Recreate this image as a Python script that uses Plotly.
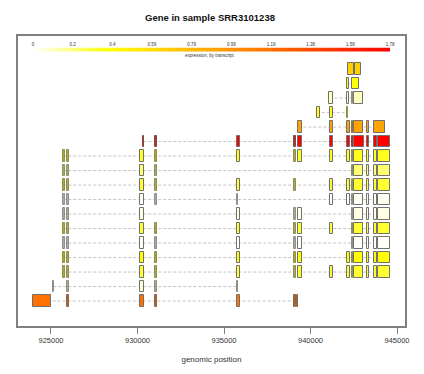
import plotly.graph_objects as go
from plotly.colors import sample_colorscale, unlabel_rgb

# ---------------- data ----------------
title_text = "Gene in sample SRR3101238"
xaxis_title = "genomic position"
colorbar_title = "expression, by transcript"

# transcripts listed top to bottom; expression per transcript
transcript_expr = [0.66, 0.38, 0.10, 0.37, 0.90, 1.78, 0.35, 0.22, 0.32,
                   0.02, 0.04, 0.32, 0.01, 0.40, 0.32, 0.07, 1.17]

# exon starts / ends per transcript (genomic coordinates)
exon_starts = [
    [942185, 942555],
    [942125, 942400],
    [941090, 942125, 942380, 942515],
    [940360, 941125, 942125],
    [939295, 941125, 942125, 942380, 942515, 943245, 943690],
    [930335, 931010, 935750, 939045, 939295, 941125, 942125, 942380, 942515, 943245, 943690, 943920],
    [925710, 925925, 930160, 931010, 935750, 939045, 939295, 941125, 942125, 942380, 942515, 943245, 943690, 943920],
    [925710, 925925, 930160, 931010, 942380, 942515, 943245, 943690, 943920],
    [925710, 925925, 930160, 931010, 935750, 939045, 941125, 942125, 942380, 942515, 943245, 943690, 943920],
    [925710, 925925, 930160, 931010, 935750, 941125, 942125, 942380, 942515, 943245, 943690, 943920],
    [925710, 925925, 930160, 935750, 939045, 939295, 942380, 942515, 943245, 943690, 943920],
    [925710, 925925, 930160, 931010, 935750, 939045, 939295, 941125, 942380, 942515, 943245, 943690, 943920],
    [925710, 925925, 930160, 931010, 935750, 939045, 939295, 942380, 942515, 943245, 943690, 943920],
    [925710, 925925, 930160, 931010, 935750, 939045, 939295, 942125, 942380, 942515, 943245, 943690, 943920],
    [925710, 925925, 930160, 931010, 935750, 939045, 939295, 941125, 942125, 942380, 942515, 943245, 943690, 943920],
    [925130, 925925, 930160, 931010, 935750],
    [923940, 925925, 930160, 931010, 935750, 939045, 939220],
]
exon_ends = [
    [942515, 942900],
    [942245, 942820],
    [941320, 942245, 942475, 943015],
    [940550, 941300, 942170],
    [939490, 941300, 942280, 942475, 943050, 943400, 944305],
    [930385, 931110, 935925, 939145, 939490, 941300, 942280, 942475, 943080, 943400, 943825, 944600],
    [925810, 926040, 930360, 931110, 935925, 939145, 939490, 941300, 942280, 942475, 943050, 943400, 943825, 944600],
    [925810, 926040, 930360, 931110, 942475, 943050, 943400, 943825, 944600],
    [925810, 926040, 930360, 931110, 935925, 939145, 941300, 942280, 942475, 943050, 943400, 943825, 944600],
    [925810, 926040, 930360, 931110, 935810, 941300, 942280, 942475, 943050, 943400, 943825, 944600],
    [925810, 926040, 930360, 935925, 939145, 939490, 942475, 943050, 943400, 943825, 944600],
    [925810, 926040, 930360, 931110, 935925, 939145, 939490, 941300, 942475, 943050, 943400, 943825, 944600],
    [925810, 926040, 930360, 931110, 935925, 939145, 939490, 942475, 943050, 943400, 943825, 944600],
    [925810, 926040, 930360, 931110, 935925, 939145, 939490, 942280, 942475, 943050, 943400, 943825, 944600],
    [925810, 926040, 930360, 931110, 935925, 939145, 939490, 941300, 942280, 942475, 943050, 943400, 943825, 944600],
    [925190, 926040, 930360, 931110, 935810],
    [924980, 926040, 930360, 931110, 935925, 939145, 939260],
]

x_ticks = [925000, 930000, 935000, 940000, 945000]
x_tick_labels = ["925000", "930000", "935000", "940000", "945000"]

expr_min = 0.0
expr_max = 1.78
cb_tick_vals = [0, 0.198, 0.396, 0.593, 0.791, 0.989, 1.187, 1.384, 1.582, 1.78]
cb_tick_labels = ["0", "0.2", "0.4", "0.59", "0.79", "0.99", "1.19", "1.38", "1.58", "1.78"]

colorscale = [[0.0, "#ffffff"], [0.22, "#ffff00"], [0.5, "#ffa500"], [1.0, "#ff0000"]]

# ---------------- figure ----------------
n_tx = len(transcript_expr)
FONT = "Liberation Sans, Arial, sans-serif"
BORDER = (96, 96, 96)
NARROW = 120  # exons narrower than this (about 2 px) look like dark ticks


def tx_color(v):
    c = sample_colorscale(colorscale, [(v - expr_min) / (expr_max - expr_min)], colortype="rgb")[0]
    return tuple(float(t) for t in unlabel_rgb(c))


def blend(c, k=0.45):
    return "rgb(%d,%d,%d)" % tuple(round(k * a + (1 - k) * b) for a, b in zip(c, BORDER))


bar_y, bar_base, bar_len, bar_fill, bar_line = [], [], [], [], []
shapes = []
for i, (starts, ends) in enumerate(zip(exon_starts, exon_ends)):
    row = n_tx - 1 - i
    col = tx_color(transcript_expr[i])
    for s, e in zip(starts, ends):
        bar_y.append(row)
        bar_base.append(s)
        bar_len.append(e - s)
        if e - s < NARROW:
            bar_fill.append(blend(col))
            bar_line.append(blend(col, 0.3))
        else:
            bar_fill.append("rgb(%d,%d,%d)" % tuple(round(t) for t in col))
            bar_line.append("#707070")
    shapes.append(dict(type="line", xref="x", yref="y", layer="below",
                       x0=min(starts), x1=max(ends), y0=row, y1=row,
                       line=dict(color="#c4c4c4", width=1, dash="3px,2px")))

fig = go.Figure()
fig.add_trace(go.Bar(
    orientation="h", y=bar_y, x=bar_len, base=bar_base, width=0.8,
    marker=dict(color=bar_fill, line=dict(color=bar_line, width=1)),
    hoverinfo="skip", showlegend=False))

# colour key drawn as a smooth heatmap on its own small axis
fig.add_trace(go.Heatmap(
    z=[[expr_min, expr_max]], x=[expr_min, expr_max], y=[0],
    colorscale=colorscale, zmin=expr_min, zmax=expr_max, zsmooth="best",
    showscale=False, hoverinfo="skip", xaxis="x2", yaxis="y2"))

# the page body adds an 8px margin, so the figure is 8px smaller and shifted
OFF = 8
W, H = 424 - OFF, 374 - OFF
ml, mt = 18 - OFF, 36 - OFF
pw, ph = 387, 290
mr, mb = W - ml - pw, H - mt - ph


def px_y(p):  # reference page pixel y -> paper y
    return (mt + ph - (p - OFF)) / ph


def px_x(p):  # reference page pixel x -> paper x
    return (p - OFF - ml) / pw


fig.update_layout(
    width=W, height=H,
    margin=dict(l=ml, r=mr, t=mt, b=mb),
    paper_bgcolor="white", plot_bgcolor="white",
    font=dict(family=FONT, color="#222222"),
    title=dict(text="<b>" + title_text + "</b>", x=(210 - OFF) / W, xanchor="center",
               y=1 - (18 - OFF) / H, yanchor="middle", font=dict(size=9.5, color="#111111")),
    bargap=0, barmode="overlay",
    shapes=shapes,
    xaxis=dict(range=[923093, 945462], tickvals=x_ticks, ticktext=x_tick_labels,
               showgrid=False, zeroline=False, showline=True, mirror=True,
               linecolor="#808080", linewidth=1.5, ticks="outside", ticklen=6,
               tickcolor="#808080", tickfont=dict(size=7.5, color="#333333"),
               title=dict(text=xaxis_title, font=dict(size=8, color="#333333"), standoff=13)),
    yaxis=dict(range=[-1.72, 18.28], showgrid=False, zeroline=False, showline=True,
               mirror=True, linecolor="#808080", linewidth=1.5, showticklabels=False,
               ticks=""),
    xaxis2=dict(domain=[px_x(33), px_x(390)], range=[expr_min, expr_max],
                anchor="y2", side="top", tickvals=cb_tick_vals, ticktext=cb_tick_labels,
                tickfont=dict(size=4.5, color="#333333"), ticks="", showgrid=False,
                zeroline=False, showline=False),
    yaxis2=dict(domain=[px_y(52), px_y(47.5)], range=[-0.5, 0.5],
                anchor="x2", visible=False),
    annotations=[dict(text=colorbar_title, xref="paper", yref="paper",
                      x=px_x(210), y=px_y(55.5), showarrow=False,
                      xanchor="center", yanchor="middle",
                      font=dict(size=4.5, color="#333333"))],
)

fig.write_html("out.html")
